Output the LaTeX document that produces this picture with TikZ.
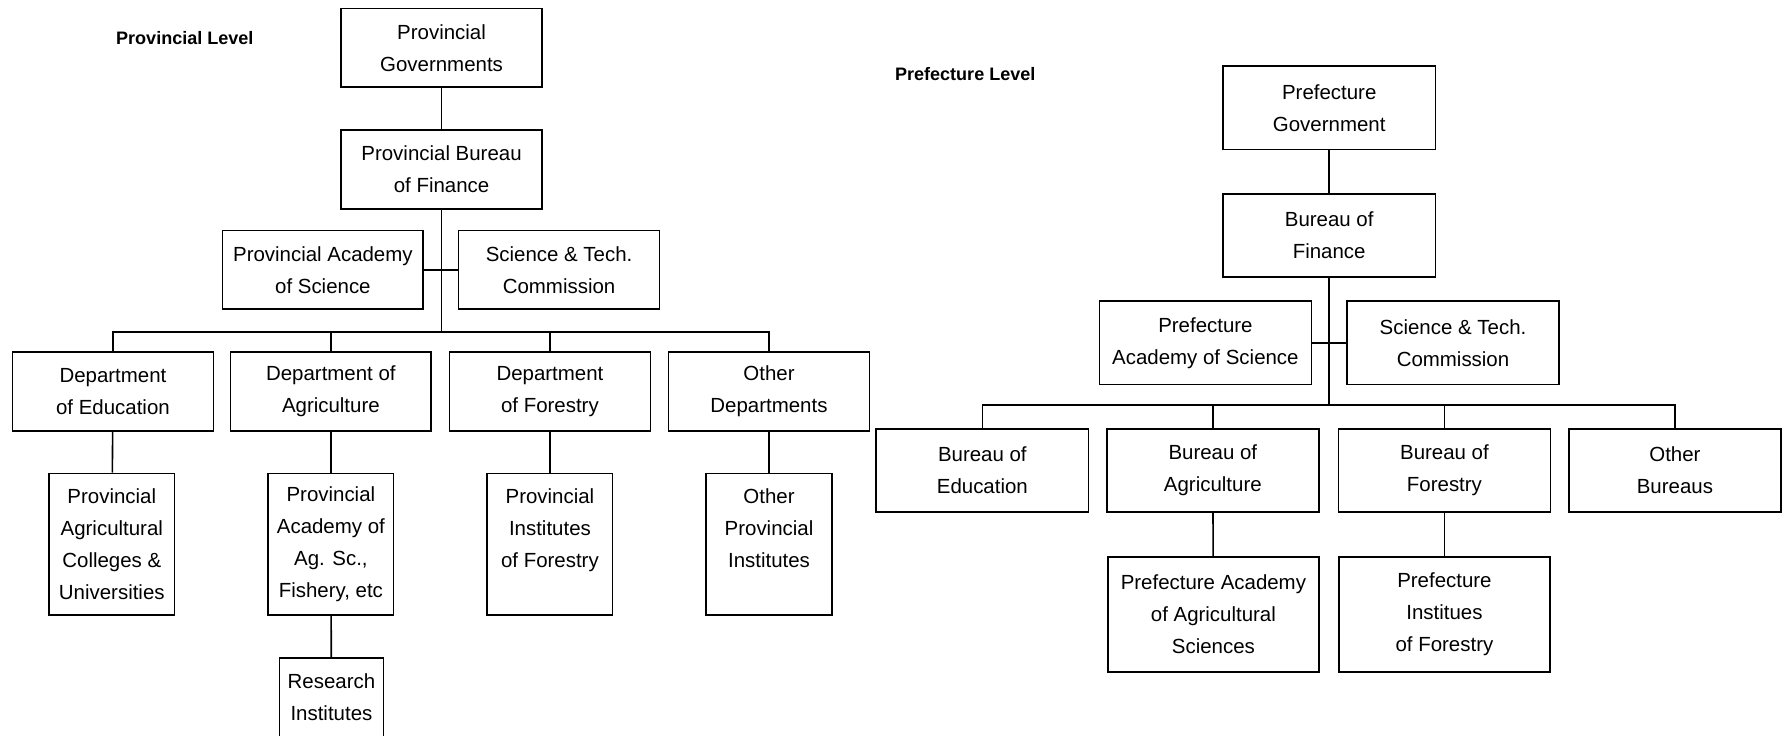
\documentclass[tikz,border=0pt]{standalone}
\usepackage{fontspec}
\setmainfont{Liberation Sans}
\usepackage{tikz}

\tikzset{
  box/.style={draw, thick, black, align=center, inner sep=0pt,
    font=\fontsize{10.2}{16}\selectfont},
  wbox/.style={box, minimum width=3.52cm, minimum height=1.38cm},
  nbox/.style={box, minimum width=2.2cm, minimum height=2.48cm},
  sbox/.style={box, minimum width=1.82cm, minimum height=1.38cm},
  rbox/.style={box, minimum width=3.72cm, minimum height=1.46cm},
  tbox/.style={box, minimum width=3.7cm, minimum height=2.02cm},
  lvl/.style={font=\fontsize{9}{11}\selectfont\bfseries},
  link/.style={thick, black}
}

\begin{document}
\begin{tikzpicture}[x=0.02cm, y=-0.02cm]
			\useasboundingbox (0, 0) rectangle (1568, 645);

			% provincial level
			\node [lvl] (plvl) at (162, 33) {Provincial Level};

			\node [wbox] (pgov) at (387, 42) {Provincial\\Governments};
			\node [wbox] (pfin) at (387, 148.5) {Provincial Bureau\\of Finance};
			\node [wbox] (pacad) at (283, 236.5) {Provincial Academy\\of Science};
			\node [wbox] (psci) at (490, 236.5) {Science \& Tech.\\Commission};

			\node [wbox] (pedu) at (99, 343) {Department\\of Education};
			\node [wbox] (pagr) at (290, 343) {Department of\\Agriculture};
			\node [wbox] (pfor) at (482, 343) {Department\\of Forestry};
			\node [wbox] (poth) at (674, 343) {Other\\Departments};

			\node [nbox] (pcol) at (98, 477) {Provincial\\Agricultural\\Colleges \&\\Universities};
			\node [nbox] (pags) at (290, 477) {Provincial\\Academy of\\Ag. Sc.,\\Fishery, etc};
			\node [nbox] (pins) at (482, 477) {Provincial\\Institutes\\of Forestry\\ \mbox{}};
			\node [nbox] (poin) at (674, 477) {Other\\Provincial\\Institutes\\ \mbox{}};

			\node [sbox] (pres) at (290.5, 611) {Research\\Institutes};

			\coordinate (pbus) at (387, 291);
			\draw [link] (pgov) -- (pfin);
			\draw [link] (pfin) -- (pbus);
			\draw [link] (pacad) -- (psci);
			\foreach \n in {pedu, pagr, pfor, poth}
				\draw [link] (pbus) -| (\n.north);
			\draw [link] (pedu) -- (pcol);
			\draw [link] (pagr) -- (pags);
			\draw [link] (pfor) -- (pins);
			\draw [link] (poth) -- (poin);
			\draw [link] (pags) -- (pres);

			% prefecture level
			\node [lvl] (flvl) at (846, 65) {Prefecture Level};

			\node [rbox] (fgov) at (1165, 94.5) {Prefecture\\Government};
			\node [rbox] (ffin) at (1165, 206.5) {Bureau of\\Finance};
			\node [rbox] (facad) at (1056.5, 300.5) {Prefecture\\Academy of Science};
			\node [rbox] (fsci) at (1273.5, 300.5) {Science \& Tech.\\Commission};

			\node [rbox] (fedu) at (861, 412.5) {Bureau of\\Education};
			\node [rbox] (fagr) at (1063, 412.5) {Bureau of\\Agriculture};
			\node [rbox] (ffor) at (1266, 412.5) {Bureau of\\Forestry};
			\node [rbox] (foth) at (1468, 412.5) {Other\\Bureaus};

			\node [tbox] (fags) at (1063.5, 538.5) {Prefecture Academy\\of Agricultural\\Sciences};
			\node [tbox] (fins) at (1266, 538.5) {Prefecture\\Institues\\of Forestry};

			\coordinate (fbus) at (1165, 355);
			\draw [link] (fgov) -- (ffin);
			\draw [link] (ffin) -- (fbus);
			\draw [link] (facad) -- (fsci);
			\foreach \n in {fedu, fagr, ffor, foth}
				\draw [link] (fbus) -| (\n.north);
			\draw [link] (fagr) -- (fags);
			\draw [link] (ffor) -- (fins);
\end{tikzpicture}
\end{document}
